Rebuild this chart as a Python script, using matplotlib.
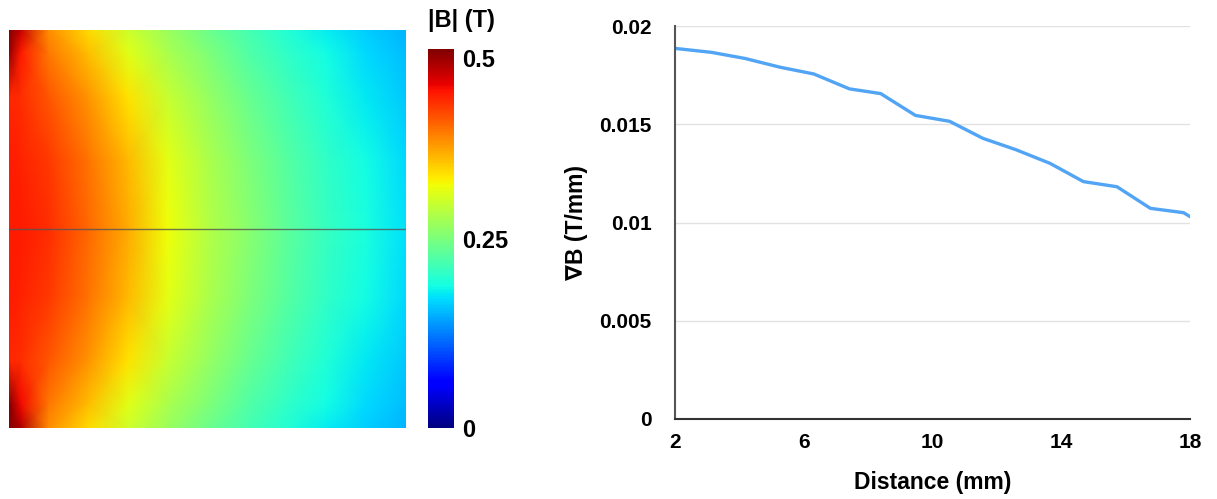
import numpy as np
import matplotlib.pyplot as plt
from matplotlib.ticker import FixedLocator

plt.rcParams['font.family'] = ['Liberation Sans', 'DejaVu Sans']
plt.rcParams['font.weight'] = 'bold'

# |B| field map (T) on a coarse grid
# x: fraction of width from the magnet side, y: fraction of height from the top
grid_x = [0.0, 0.03, 0.1, 0.2, 0.3, 0.4, 0.5, 0.6, 0.7, 0.8, 0.9, 1.0]
grid_y = [0.0, 0.06, 0.17, 0.33, 0.5, 0.67, 0.83, 0.94, 1.0]
field_grid = np.array([
    [0.55, 0.47, 0.379, 0.338, 0.299, 0.269, 0.242, 0.218, 0.197, 0.179, 0.164, 0.151],
    [0.49, 0.44, 0.392, 0.354, 0.312, 0.279, 0.252, 0.226, 0.204, 0.186, 0.169, 0.155],
    [0.434, 0.43, 0.409, 0.376, 0.334, 0.296, 0.266, 0.240, 0.215, 0.195, 0.177, 0.162],
    [0.44, 0.437, 0.424, 0.394, 0.357, 0.314, 0.280, 0.253, 0.228, 0.205, 0.187, 0.169],
    [0.44, 0.44, 0.430, 0.400, 0.365, 0.320, 0.285, 0.258, 0.232, 0.208, 0.190, 0.172],
    [0.44, 0.437, 0.424, 0.394, 0.357, 0.314, 0.280, 0.253, 0.228, 0.205, 0.187, 0.169],
    [0.434, 0.43, 0.409, 0.376, 0.334, 0.296, 0.266, 0.240, 0.215, 0.195, 0.177, 0.162],
    [0.50, 0.45, 0.392, 0.354, 0.312, 0.279, 0.252, 0.226, 0.204, 0.186, 0.169, 0.155],
    [0.56, 0.48, 0.379, 0.338, 0.299, 0.269, 0.242, 0.218, 0.197, 0.179, 0.164, 0.151],
])
cbar_ticks = [0, 0.25, 0.5]
cbar_labels = ["0", "0.25", "0.5"]

# gradient along the centre line
distance = [2.0, 3.13, 4.17, 5.27, 6.31, 7.42, 8.39, 9.47, 10.53, 11.57,
            12.6, 13.65, 14.69, 15.73, 16.77, 17.8, 18.0]
grad_b = [0.01886, 0.01866, 0.01835, 0.0179, 0.01756, 0.0168, 0.01656, 0.01545,
          0.01515, 0.01428, 0.0137, 0.01301, 0.01208, 0.01182, 0.01072, 0.0105, 0.0103]
y_ticks = [0, 0.005, 0.01, 0.015, 0.02]
y_labels = ["0", "0.005", "0.01", "0.015", "0.02"]
x_ticks = [2, 6, 10, 14, 18]

W, H = 1217, 499
fig = plt.figure(figsize=(W / 100, H / 100), dpi=100)

def box(x0, y0, x1, y1):
    return [x0 / W, 1 - y1 / H, (x1 - x0) / W, (y1 - y0) / H]

# left: field map
ax1 = fig.add_axes(box(9, 30, 406, 428))
pm = ax1.pcolormesh(grid_x, grid_y, field_grid, cmap='jet', vmin=0, vmax=0.5,
                    shading='gouraud', rasterized=True)
ax1.set_xlim(0, 1)
ax1.set_ylim(1, 0)
ax1.axhline(0.5, color='#555555', lw=1.0, alpha=0.8)
ax1.set_xticks([])
ax1.set_yticks([])
for s in ax1.spines.values():
    s.set_visible(False)

cax = fig.add_axes(box(428, 49, 454, 428))
cb = fig.colorbar(pm, cax=cax, ticks=cbar_ticks)
cb.ax.set_yticklabels(cbar_labels)
cb.ax.tick_params(length=0, labelsize=17, pad=6)
cb.outline.set_visible(False)
tl = cb.ax.get_yticklabels()
tl[2].set_va('top')
fig.text(428 / W, 1 - 21 / H, "|B| (T)", fontsize=17, fontweight='bold',
         ha='left', va='center')

# right: gradient plot
ax2 = fig.add_axes(box(675, 26, 1190, 419))
ax2.plot(distance, grad_b, color='#52a4f4', lw=2.4, solid_joinstyle='round')
ax2.set_xlim(2, 18)
ax2.set_ylim(0, 0.02)
ax2.xaxis.set_major_locator(FixedLocator(x_ticks))
ax2.set_xticklabels([str(t) for t in x_ticks])
ax2.yaxis.set_major_locator(FixedLocator(y_ticks))
ax2.set_yticklabels(y_labels)
ax2.grid(True, axis='y', color='#e2e2e2', lw=1.0)
ax2.set_axisbelow(True)
ax2.tick_params(axis='both', length=0, labelsize=15)
ax2.tick_params(axis='y', pad=17)
ax2.tick_params(axis='x', pad=10)
ax2.spines['top'].set_visible(False)
ax2.spines['right'].set_visible(False)
ax2.spines['left'].set_color('#555555')
ax2.spines['bottom'].set_color('#333333')
ax2.spines['left'].set_linewidth(1.5)
ax2.spines['bottom'].set_linewidth(1.5)
ax2.set_xlabel("Distance (mm)", fontsize=16.5, fontweight='bold', labelpad=14)
ax2.set_ylabel("∇B (T/mm)", fontsize=16.5, fontweight='bold', labelpad=8)

fig.savefig("out.png", dpi=100)
